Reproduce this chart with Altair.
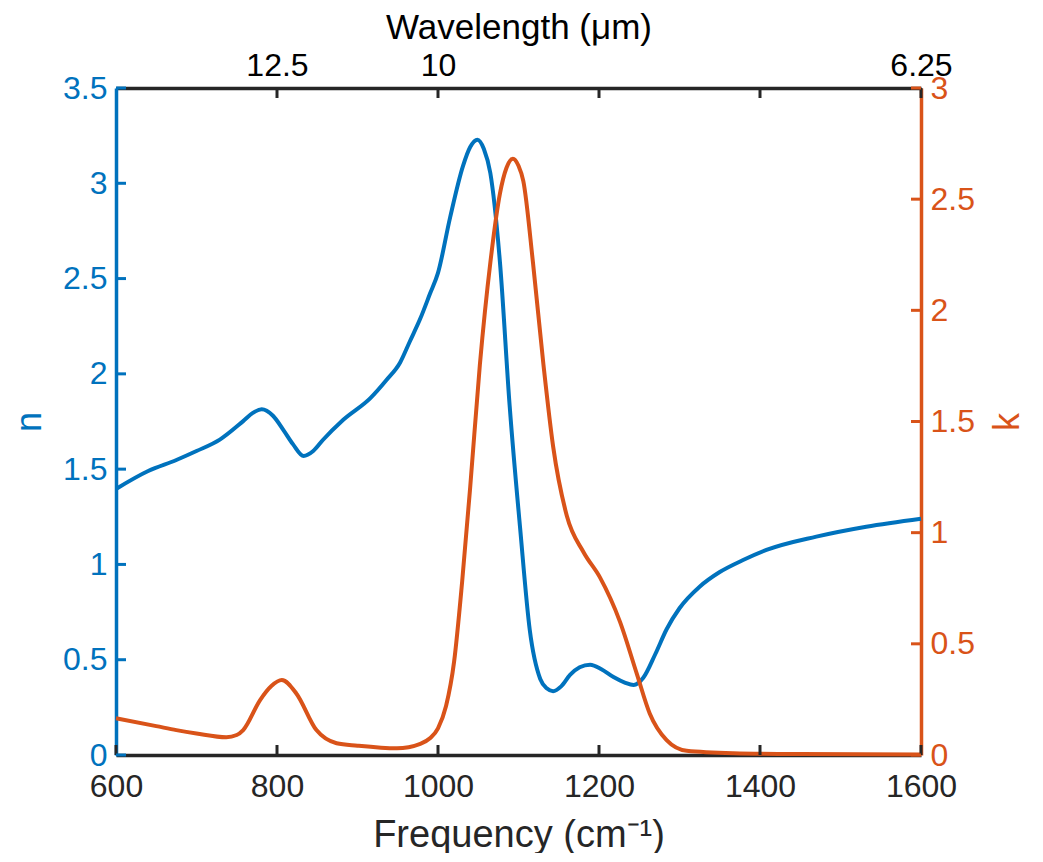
import altair as alt
import pandas as pd

# ---- data ----
freq_n = [600, 640, 675, 700, 729, 758, 770, 781, 795, 808, 820, 833, 845, 857, 882, 916,
          936, 953, 965, 978, 990, 1000, 1015, 1031, 1040, 1049, 1057, 1065, 1077, 1089,
          1102, 1114, 1127, 1135, 1143, 1153, 1164, 1176, 1189, 1203, 1218, 1232, 1243,
          1255, 1270, 1284, 1300, 1325, 1350, 1379, 1408, 1470, 1532, 1600]
n_vals = [1.396, 1.49, 1.548, 1.595, 1.655, 1.752, 1.795, 1.814, 1.78, 1.705, 1.63, 1.569,
          1.595, 1.653, 1.758, 1.873, 1.968, 2.06, 2.17, 2.29, 2.42, 2.53, 2.82, 3.09, 3.19,
          3.229, 3.18, 3.054, 2.583, 1.833, 1.191, 0.656, 0.399, 0.35, 0.335, 0.36, 0.42,
          0.46, 0.474, 0.45, 0.409, 0.38, 0.367, 0.405, 0.53, 0.66, 0.77, 0.883, 0.96,
          1.023, 1.076, 1.146, 1.198, 1.240]

freq_k = [600, 650, 675, 700, 737, 750, 758, 779, 793, 806, 824, 849, 874, 900, 949, 978,
          990, 1000, 1010, 1020, 1030, 1040, 1052, 1065, 1077, 1085, 1093, 1100, 1106, 1118,
          1131, 1143, 1160, 1181, 1201, 1226, 1247, 1263, 1284, 1309, 1367, 1450, 1600]
k_vals = [0.165, 0.13, 0.112, 0.097, 0.080, 0.09, 0.112, 0.247, 0.31, 0.337, 0.277, 0.112,
          0.053, 0.042, 0.030, 0.05, 0.075, 0.12, 0.22, 0.42, 0.78, 1.205, 1.755, 2.214,
          2.526, 2.64, 2.682, 2.65, 2.581, 2.214, 1.755, 1.388, 1.076, 0.911, 0.80, 0.60,
          0.365, 0.187, 0.067, 0.019, 0.008, 0.004, 0.002]

freq_ticks = [600, 800, 1000, 1200, 1400, 1600]
wl_tick_freq = [800, 1000, 1600]
wl_tick_labels = ["12.5", "10", "6.25"]
wl_minor_ticks = [800, 1000, 1200, 1400, 1600]
n_ticks = [0, 0.5, 1, 1.5, 2, 2.5, 3, 3.5]
k_ticks = [0, 0.5, 1, 1.5, 2, 2.5, 3]

F_MIN, F_MAX = 600, 1600
N_MAX, K_MAX = 3.5, 3

# ---- layout / style ----
W, H = 805, 667
BLUE = "#0072BD"
ORANGE = "#D95319"
DARK = "#262626"
FONT = "Liberation Sans"
LFS = 32
DW = 3.5
TS = 10  # inward tick length in px

# tick lengths converted into each scale's units
dn = TS * N_MAX / H
df_ = TS * (F_MAX - F_MIN) / W

df_n = pd.DataFrame({"freq": freq_n, "n": n_vals})
df_k = pd.DataFrame({"freq": freq_k, "k": k_vals})
df_bottom = pd.DataFrame({"f1": freq_ticks, "f2": freq_ticks,
                          "v1": [0.0] * len(freq_ticks), "v2": [dn] * len(freq_ticks)})
df_top = pd.DataFrame({"f1": wl_minor_ticks, "f2": wl_minor_ticks,
                       "v1": [N_MAX - dn] * len(wl_minor_ticks),
                       "v2": [N_MAX] * len(wl_minor_ticks)})
df_left = pd.DataFrame({"f1": [F_MIN] * len(n_ticks), "f2": [F_MIN + df_] * len(n_ticks),
                        "v1": n_ticks, "v2": n_ticks})
df_right = pd.DataFrame({"f1": [F_MAX - df_] * len(k_ticks), "f2": [F_MAX] * len(k_ticks),
                         "v1": k_ticks, "v2": k_ticks})

xscale = alt.Scale(domain=[F_MIN, F_MAX], nice=False, zero=False)
nscale = alt.Scale(domain=[0, N_MAX], nice=False)
kscale = alt.Scale(domain=[0, K_MAX], nice=False)

label_expr = " : ".join(
    f"datum.value == {f} ? '{l}'" for f, l in zip(wl_tick_freq, wl_tick_labels)
) + " : ''"

base_axis = dict(grid=False, labelFont=FONT, titleFont=FONT, labelFontSize=LFS,
                 titleFontWeight="normal", labelFlush=False,
                 labelOverlap=False, labelBound=False, domainWidth=DW, ticks=False,
                 tickSize=0)

n_line = alt.Chart(df_n).mark_line(color=BLUE, strokeWidth=4, interpolate="monotone").encode(
    x=alt.X("freq:Q", scale=xscale, title="Frequency (cm⁻¹)",
            axis=alt.Axis(orient="bottom", values=freq_ticks, labelPadding=16,
                          titlePadding=14, titleFontSize=38, domainColor=DARK,
                          labelColor=DARK, titleColor=DARK, format="d", **base_axis)),
    y=alt.Y("n:Q", scale=nscale, title="n",
            axis=alt.Axis(orient="left", values=n_ticks, labelPadding=9,
                          titlePadding=14, titleFontSize=36, domainColor=BLUE,
                          labelColor=BLUE, titleColor=BLUE, titleAngle=270,
                          format=".1~f", **base_axis)),
)

k_line = alt.Chart(df_k).mark_line(color=ORANGE, strokeWidth=4, interpolate="monotone").encode(
    x=alt.X("freq:Q", scale=xscale, title="Wavelength (μm)",
            axis=alt.Axis(orient="top", values=wl_tick_freq, labelExpr=label_expr,
                          labelPadding=6, titlePadding=4, titleFontSize=35,
                          domainColor=DARK, labelColor="#000000", titleColor="#000000",
                          **base_axis)),
    y=alt.Y("k:Q", scale=kscale, title="k",
            axis=alt.Axis(orient="right", values=k_ticks, labelPadding=9,
                          titlePadding=16, titleFontSize=36, domainColor=ORANGE,
                          labelColor=ORANGE, titleColor=ORANGE, titleAngle=270,
                          titleBaseline="top", format=".1~f", **base_axis)),
)


def tick_layer(df, yscale, color):
    return alt.Chart(df).mark_rule(color=color, strokeWidth=3).encode(
        x=alt.X("f1:Q", scale=xscale, axis=None),
        x2="f2:Q",
        y=alt.Y("v1:Q", scale=yscale, axis=None),
        y2="v2:Q",
    )


ticks_bottom = tick_layer(df_bottom, nscale, DARK)
ticks_top = tick_layer(df_top, nscale, DARK)
ticks_left = tick_layer(df_left, nscale, BLUE)
ticks_right = tick_layer(df_right, kscale, ORANGE)

chart = alt.layer(
    n_line, k_line, ticks_bottom, ticks_top, ticks_left, ticks_right
).resolve_scale(
    x="shared", y="independent"
).resolve_axis(
    x="independent", y="independent"
).properties(
    width=W, height=H,
    autosize=alt.AutoSizeParams(type="none"),
    padding={"left": 108, "top": 80, "right": 112, "bottom": 98},
    background="white",
).configure_view(stroke=None)

chart.save("out.html", embed_options={"renderer": "svg", "actions": False})
